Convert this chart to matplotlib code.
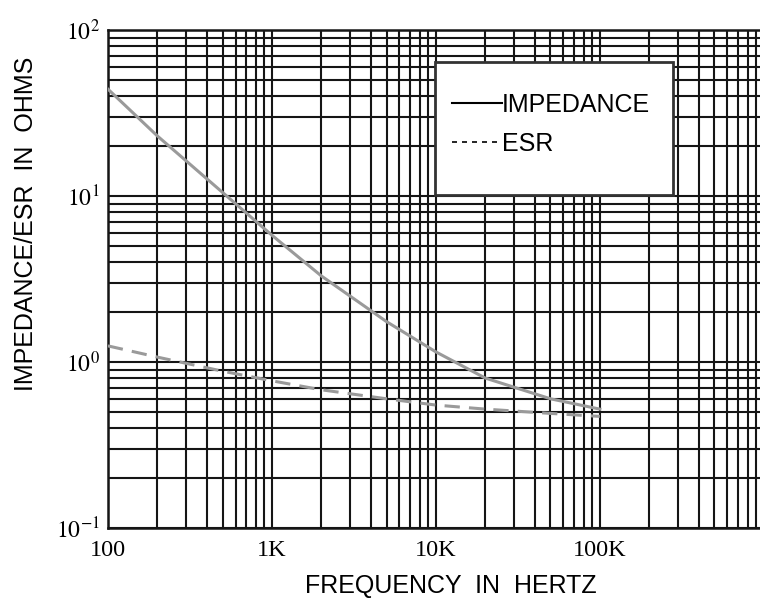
import matplotlib
matplotlib.use("Agg")
import matplotlib.pyplot as plt
from matplotlib.lines import Line2D
from matplotlib.patches import Rectangle
from matplotlib.ticker import FixedLocator, FixedFormatter, LogLocator, NullFormatter

plt.rcParams['mathtext.fontset'] = 'stix'

# values
freq = [100, 200, 500, 1e3, 2e3, 5e3, 1e4, 2e4, 5e4, 1e5]
impedance = [44, 23, 10.5, 5.8, 3.3, 1.75, 1.15, 0.8, 0.6, 0.52]
esr = [1.25, 1.07, 0.88, 0.77, 0.68, 0.6, 0.55, 0.52, 0.49, 0.47]

x_ticks = [100, 1e3, 1e4, 1e5]
x_labels = ["100", "1K", "10K", "100K"]
y_ticks = [0.1, 1, 10, 100]
y_labels = [r"$10^{-1}$", r"$10^{0}$", r"$10^{1}$", r"$10^{2}$"]

fig = plt.figure(figsize=(7.6, 6.03), dpi=100)
ax = fig.add_axes([0.142, 0.1244, 0.863, 0.826])

ax.set_xscale("log")
ax.set_yscale("log")
ax.set_xlim(100, 1e6)
ax.set_ylim(0.1, 100)

# dense black graph-paper grid
ax.xaxis.set_major_locator(FixedLocator(x_ticks))
ax.xaxis.set_major_formatter(FixedFormatter(x_labels))
ax.yaxis.set_major_locator(FixedLocator(y_ticks))
ax.yaxis.set_major_formatter(FixedFormatter(y_labels))
ax.xaxis.set_minor_locator(LogLocator(base=10, subs=range(2, 10), numticks=20))
ax.yaxis.set_minor_locator(LogLocator(base=10, subs=range(2, 10), numticks=20))
ax.xaxis.set_minor_formatter(NullFormatter())
ax.yaxis.set_minor_formatter(NullFormatter())
ax.grid(True, which="both", color="#151515", linewidth=1.5)
ax.set_axisbelow(True)
ax.tick_params(which="both", length=0)
ax.tick_params(axis="x", pad=9, labelsize=17.5)
ax.tick_params(axis="y", pad=6, labelsize=17)
for lab in ax.get_xticklabels():
    lab.set_fontfamily("Liberation Serif")
for s in ax.spines.values():
    s.set_color("#151515")
    s.set_linewidth(1.8)

ax.plot(freq, impedance, color="#9a9a9a", lw=2.2, zorder=3)
ax.plot(freq, esr, color="#9a9a9a", lw=2.2, dashes=(5, 3), zorder=3)

ax.set_xlabel("FREQUENCY  IN  HERTZ", fontsize=18, family="Liberation Sans")
ax.set_ylabel("IMPEDANCE/ESR  IN  OHMS", fontsize=18, family="Liberation Sans")
ax.xaxis.set_label_coords(0.523, -0.092)
ax.yaxis.set_label_coords(-0.107, 0.61)

# legend box
ax.add_patch(Rectangle((0.498, 0.669), 0.363, 0.267, transform=ax.transAxes,
                       facecolor="white", edgecolor="#333333", lw=2, zorder=4))
handles = [Line2D([], [], color="black", lw=1.5),
           Line2D([], [], color="black", lw=1.2, dashes=(3, 3))]
leg = ax.legend(handles, ["IMPEDANCE", "ESR"], loc="upper left",
                bbox_to_anchor=(0.524, 0.873), frameon=False,
                prop={"family": "Liberation Sans", "size": 18},
                handlelength=2.0, handletextpad=0.0, labelspacing=0.6,
                borderpad=0, borderaxespad=0)
leg.set_zorder(5)

fig.savefig("out.png", dpi=100)
